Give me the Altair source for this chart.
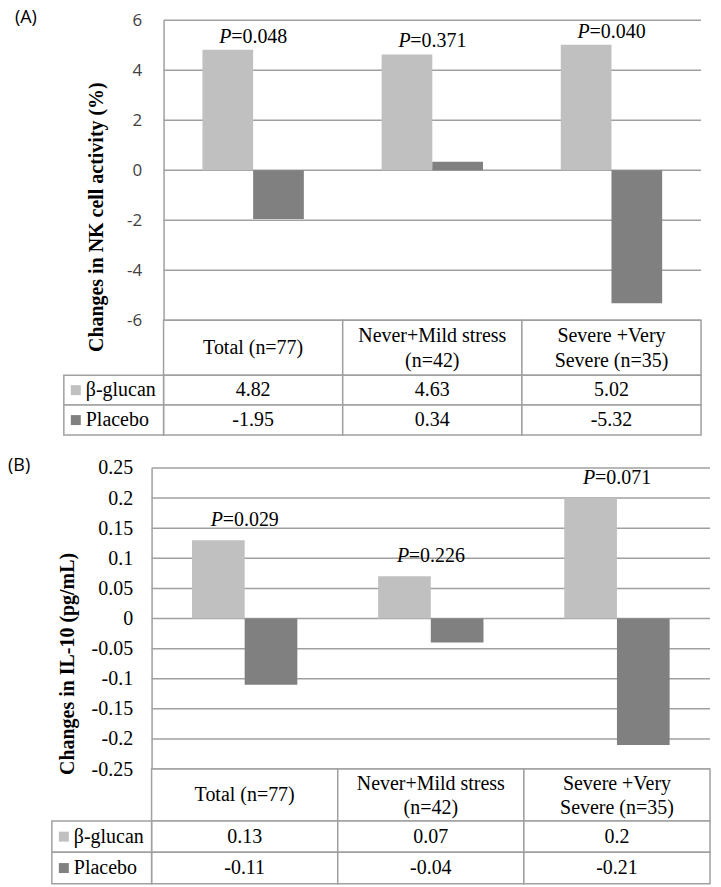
import altair as alt
import pandas as pd

# ---------------- data ----------------
categories = ["Total (n=77)", "Never+Mild stress\n(n=42)", "Severe +Very\nSevere (n=35)"]
series = ["β-glucan", "Placebo"]

nk_beta = [4.82, 4.63, 5.02]
nk_placebo = [-1.95, 0.34, -5.32]
nk_p = ["0.048", "0.371", "0.040"]
nk_ticks = [6, 4, 2, 0, -2, -4, -6]

il_beta = [0.13, 0.07, 0.2]
il_placebo = [-0.11, -0.04, -0.21]
il_p = ["0.029", "0.226", "0.071"]
il_ticks = [0.25, 0.2, 0.15, 0.1, 0.05, 0, -0.05, -0.1, -0.15, -0.2, -0.25]

# ---------------- style ----------------
SERIF = "Liberation Serif"
SANS = "Open Sans"
LINE = "#a0a0a0"
COLORS = ["#c0c0c0", "#808080"]
BW = 0.283      # bar width, as a fraction of one category column
LEG_W = 100     # width of the legend column of the data table (px)


def make_panel(tag, tag_dx, beta, placebo, pvals, ticks, ytitle, colw, extra_left,
               plot_h, head_h, row_h, lab_font, lab_size, lab_color, lab_pad,
               title_pad, title_y, p_gap, line_h, ml_dy):
    leg_start = -LEG_W / colw
    dmin = -(LEG_W + extra_left) / colw
    W = 3 * colw + LEG_W + extra_left
    xs = alt.Scale(domain=[dmin, 3], nice=False, zero=False)
    ys = alt.Scale(domain=[min(ticks), max(ticks)], nice=False, zero=False)
    yaxis = alt.Axis(
        values=ticks, labelExpr="'' + datum.value", grid=False, ticks=False, tickSize=0,
        domainColor=LINE, domainWidth=1.5, offset=-(LEG_W + extra_left),
        labelFont=lab_font, labelFontSize=lab_size, labelColor=lab_color,
        labelPadding=lab_pad, title=ytitle, titleFont=SERIF, titleFontSize=20,
        titleFontWeight="bold", titleColor="black", titlePadding=title_pad,
        titleY=title_y,
    )

    bar_rows = []
    for i in range(len(categories)):
        bar_rows.append({"cat_i": i, "series": series[0], "value": beta[i]})
        bar_rows.append({"cat_i": i, "series": series[1], "value": placebo[i]})
    bar_df = pd.DataFrame(bar_rows)
    p_df = pd.DataFrame({"cat_i": list(range(len(categories))), "beta": beta, "p": pvals})
    tick_df = pd.DataFrame({"t": ticks})
    tag_df = pd.DataFrame({"tag": [tag]})

    grid = alt.Chart(tick_df).mark_rule(color=LINE, strokeWidth=1.5).encode(
        x=alt.XDatum(0, scale=xs, axis=None),
        x2=alt.X2Datum(3),
        y=alt.Y("t:Q", scale=ys, axis=yaxis),
    )
    bars = alt.Chart(bar_df).transform_calculate(
        x0=f"datum.cat_i + 0.5 - (datum.series == 'Placebo' ? 0 : {BW})",
        x1=f"datum.cat_i + 0.5 + (datum.series == 'Placebo' ? {BW} : 0)",
        zero="0",
    ).mark_rect().encode(
        x=alt.X("x0:Q", scale=xs, axis=None),
        x2="x1:Q",
        y=alt.Y("value:Q", scale=ys, axis=yaxis),
        y2="zero:Q",
        color=alt.Color("series:N", scale=alt.Scale(domain=series, range=COLORS), legend=None),
    )
    p_base = alt.Chart(p_df).transform_calculate(
        xc="datum.cat_i + 0.5", eq="'=' + datum.p"
    )
    p_italic = p_base.mark_text(
        font=SERIF, fontSize=20, fontStyle="italic", align="left", baseline="middle",
        dx=-34, dy=-p_gap, color="black",
    ).encode(
        x=alt.X("xc:Q", scale=xs, axis=None),
        y=alt.Y("beta:Q", scale=ys, axis=yaxis),
        text=alt.value("P"),
    )
    p_rest = p_base.mark_text(
        font=SERIF, fontSize=20, align="left", baseline="middle",
        dx=-22, dy=-p_gap, color="black",
    ).encode(
        x=alt.X("xc:Q", scale=xs, axis=None),
        y=alt.Y("beta:Q", scale=ys, axis=yaxis),
        text="eq:N",
    )
    tag_mark = alt.Chart(tag_df).mark_text(
        font=SANS, fontSize=18, align="left", baseline="middle",
        dx=tag_dx, dy=-2, color="black",
    ).encode(
        x=alt.XDatum(dmin, scale=xs, axis=None),
        y=alt.YDatum(max(ticks), scale=ys, axis=yaxis),
        text="tag:N",
    )
    top = alt.layer(grid, bars, p_italic, p_rest, tag_mark).properties(width=W, height=plot_h)

    # header row of the table
    hdr_df = pd.DataFrame({"cat_i": list(range(len(categories))), "category": categories})
    hdr_cells = alt.Chart(hdr_df).transform_calculate(
        x0="datum.cat_i", x1="datum.cat_i + 1"
    ).mark_rect(fill="white", stroke=LINE, strokeWidth=1.5).encode(
        x=alt.X("x0:Q", scale=xs, axis=None), x2="x1:Q",
    )
    hdr_text_base = alt.Chart(hdr_df).transform_calculate(xc="datum.cat_i + 0.5")
    hdr_text_1 = hdr_text_base.transform_filter(
        "indexof(datum.category, '\\n') < 0"
    ).mark_text(
        font=SERIF, fontSize=20, baseline="middle", align="center", color="black",
    ).encode(x=alt.X("xc:Q", scale=xs, axis=None), text="category:N")
    hdr_text_2 = hdr_text_base.transform_filter(
        "indexof(datum.category, '\\n') >= 0"
    ).mark_text(
        font=SERIF, fontSize=20, lineBreak="\n", lineHeight=line_h, baseline="middle",
        align="center", color="black", dy=ml_dy,
    ).encode(x=alt.X("xc:Q", scale=xs, axis=None), text="category:N")
    header = alt.layer(hdr_cells, hdr_text_1, hdr_text_2).properties(width=W, height=head_h)

    # value rows of the table
    ysb = alt.Scale(domain=series, paddingInner=0, paddingOuter=0)
    val_df = bar_df.copy()
    val_cells = alt.Chart(val_df).transform_calculate(
        x0="datum.cat_i", x1="datum.cat_i + 1"
    ).mark_rect(fill="white", stroke=LINE, strokeWidth=1.5).encode(
        x=alt.X("x0:Q", scale=xs, axis=None), x2="x1:Q",
        y=alt.Y("series:N", scale=ysb, axis=None),
    )
    val_text = alt.Chart(val_df).transform_calculate(
        xc="datum.cat_i + 0.5", lbl="'' + datum.value"
    ).mark_text(font=SERIF, fontSize=20, baseline="middle", align="center", color="black").encode(
        x=alt.X("xc:Q", scale=xs, axis=None),
        y=alt.Y("series:N", scale=ysb, axis=None),
        text="lbl:N",
    )
    leg_df = pd.DataFrame({"series": series})
    leg_base = alt.Chart(leg_df).transform_calculate(
        x0=f"{leg_start}", x1="0", xs=f"{leg_start} + 12 / {colw}"
    )
    leg_cells = leg_base.mark_rect(fill="white", stroke=LINE, strokeWidth=1.5).encode(
        x=alt.X("x0:Q", scale=xs, axis=None), x2="x1:Q",
        y=alt.Y("series:N", scale=ysb, axis=None),
    )
    leg_sq = leg_base.mark_square(size=100, opacity=1).encode(
        x=alt.X("xs:Q", scale=xs, axis=None),
        y=alt.Y("series:N", scale=ysb, axis=None),
        color=alt.Color("series:N", scale=alt.Scale(domain=series, range=COLORS), legend=None),
    )
    leg_text = leg_base.mark_text(
        font=SERIF, fontSize=20, baseline="middle", align="left", dx=22, color="black"
    ).encode(
        x=alt.X("x0:Q", scale=xs, axis=None),
        y=alt.Y("series:N", scale=ysb, axis=None),
        text="series:N",
    )
    values = alt.layer(val_cells, leg_cells, val_text, leg_sq, leg_text).properties(
        width=W, height=2 * row_h
    )

    return alt.vconcat(top, header, values, spacing=0, bounds="flush")


panel_a = make_panel("(A)", -37, nk_beta, nk_placebo, nk_p, nk_ticks,
                     "Changes in NK cell activity (%)", colw=179.67, extra_left=12,
                     plot_h=301, head_h=55, row_h=30, lab_font=SANS, lab_size=17,
                     lab_color="#404040", lab_pad=22, title_pad=20, title_y=197, p_gap=13,
                     line_h=25, ml_dy=-12)
panel_b = make_panel("(B)", -44, il_beta, il_placebo, il_p, il_ticks,
                     "Changes in IL-10 (pg/mL)", colw=186.67, extra_left=0,
                     plot_h=302, head_h=52, row_h=31.5, lab_font=SERIF, lab_size=20,
                     lab_color="black", lab_pad=19, title_pad=14, title_y=196, p_gap=20,
                     line_h=24, ml_dy=-11)

chart = alt.vconcat(panel_a, panel_b, spacing=21).properties(
    padding={"left": 0, "top": 0, "right": 2, "bottom": 0}
).configure_view(strokeWidth=0)

chart.save("out.html", embed_options={"renderer": "svg", "actions": False})
